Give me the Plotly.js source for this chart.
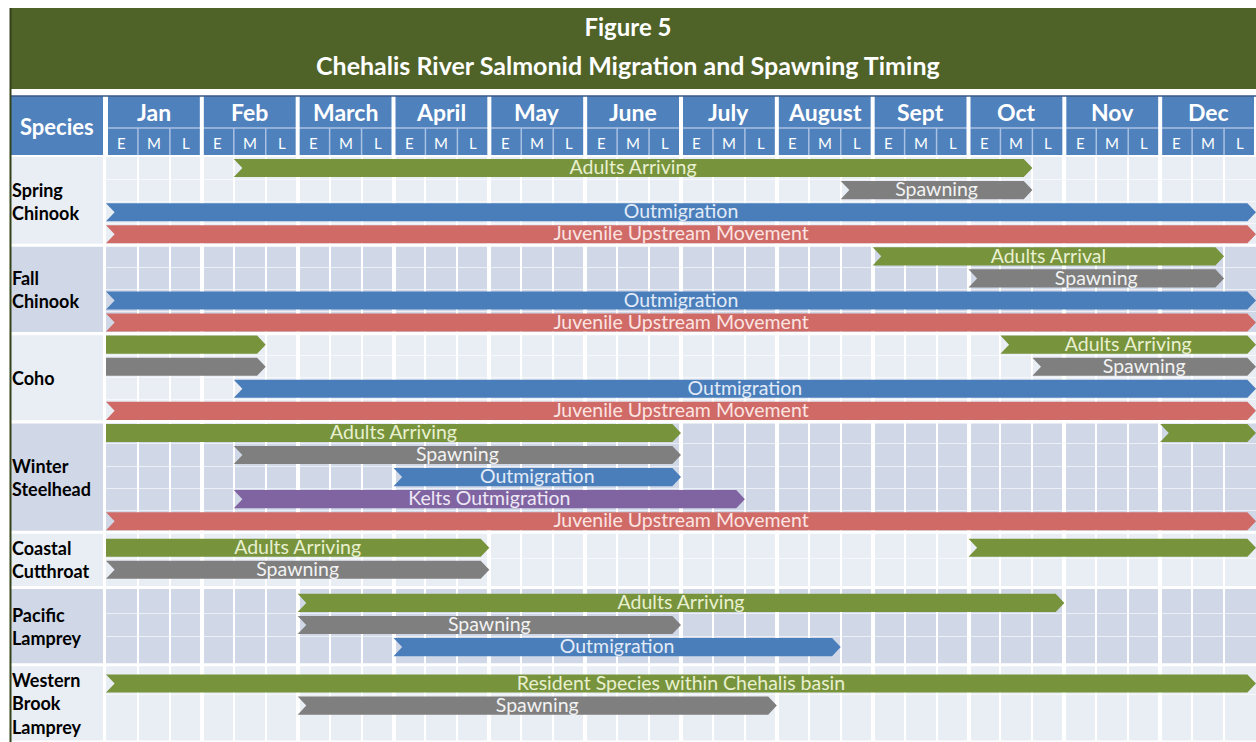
<!DOCTYPE html>
<html><head><meta charset="utf-8">
<script src="https://cdn.plot.ly/plotly-3.0.1.min.js"></script>
<style>html,body{margin:0;padding:0;background:#fff}#chart{width:1256px;height:742px}</style>
</head><body><div id="chart"></div>
<script>
// ---------------- DATA ----------------
const months = ['Jan','Feb','March','April','May','June','July','August','Sept','Oct','Nov','Dec'];
const periods = ['E','M','L'];
const species = ['Spring<br>Chinook','Fall<br>Chinook','Coho','Winter<br>Steelhead','Coastal<br>Cutthroat','Pacific<br>Lamprey','Western<br>Brook<br>Lamprey'];

// one entry per bar segment
const barSpecies  = [0,0,0,0, 1,1,1,1, 2,2,2,2,2,2, 3,3,3,3,3,3, 4,4,4, 5,5,5, 6,6];
const barLane     = [0,1,2,3, 0,1,2,3, 0,0,1,1,2,3, 0,0,1,2,3,4, 0,0,1, 0,1,2, 0,1];
const barActivity = ['adult','spawn','out','juv',
                     'adult','spawn','out','juv',
                     'adult','adult','spawn','spawn','out','juv',
                     'adult','adult','spawn','out','kelt','juv',
                     'adult','adult','spawn',
                     'adult','spawn','out',
                     'adult','spawn'];
const barLabel = ['Adults Arriving','Spawning','Outmigration','Juvenile Upstream Movement',
                  'Adults Arrival','Spawning','Outmigration','Juvenile Upstream Movement',
                  '','Adults Arriving','','Spawning','Outmigration','Juvenile Upstream Movement',
                  'Adults Arriving','','Spawning','Outmigration','Kelts Outmigration','Juvenile Upstream Movement',
                  'Adults Arriving','','Spawning',
                  'Adults Arriving','Spawning','Outmigration',
                  'Resident Species within Chehalis basin','Spawning'];
const barStart = ['Feb M','August L','Jan E','Jan E',
                  'Sept E','Oct E','Jan E','Jan E',
                  'Jan E','Oct M','Jan E','Oct L','Feb M','Jan E',
                  'Jan E','Dec E','Feb M','April E','Feb M','Jan E',
                  'Jan E','Oct E','Jan E',
                  'March E','March E','April E',
                  'Jan E','March E'];
const barEnd   = ['Oct M','Oct M','Dec L','Dec L',
                  'Dec M','Dec M','Dec L','Dec L',
                  'Feb M','Dec L','Feb M','Dec L','Dec L','Dec L',
                  'June L','Dec L','June L','June L','July M','Dec L',
                  'April L','Dec L','April L',
                  'Oct L','June L','August M',
                  'Dec L','July L'];
// segment continues from previous year (flat left end)
const barFromPrevYear = [false,false,false,false, false,false,false,false,
                         true,false,true,false,false,false,
                         true,false,false,false,false,false,
                         true,false,false, false,false,false, false,false];

// ---------------- LAYOUT / STYLE ----------------
const groupHeight = [4,4,4,5,2.5,3.5,3.5];
const groupPad    = [0,0,0,0,0.2,0.2,0.35];
const totalLanes = groupHeight.reduce((a,b)=>a+b,0);
const groupStart = []; {let c=0; for(const h of groupHeight){groupStart.push(c); c+=h;}}

const catColor = {adult:'#77933c', spawn:'#7f7f7f', out:'#4a7ebb', kelt:'#8064a2', juv:'#cf6a66'};
const catText  = {adult:'#e8f0d0', spawn:'#f2f2f2', out:'#e2ebf7', kelt:'#eee8f5', juv:'#fbe4e2'};
const cats = ['adult','spawn','out','kelt','juv'];
const FONT = 'Lato, "Open Sans", sans-serif';
const PX = {left:106, right:1256, top:157, bottom:742, frame:10, titleTop:8, titleBottom:89, headTop:96, headMid:128, headBottom:155};
const pxX = p => (p-PX.left)/(PX.right-PX.left);
const pxY = p => (PX.bottom-p)/(PX.bottom-PX.top);
const rowLight = '#e9edf4', rowDark = '#d0d8e8', hdr = '#4f81bd';

function tIndex(s){ const i=s.lastIndexOf(' '); return months.indexOf(s.slice(0,i))*3 + periods.indexOf(s.slice(i+1)); }

const D = 0.27, H = 0.41;
const traces = [];
cats.forEach(cat=>{
  const xs=[], ys=[], tx=[], ty=[], tt=[];
  barActivity.forEach((a,i)=>{
    if(a!==cat) return;
    const s = tIndex(barStart[i]), e = tIndex(barEnd[i])+1;
    const g = barSpecies[i];
    const yc = groupStart[g] + groupPad[g] + barLane[i] + 0.5;
    xs.push(s, e-D, e, e-D, s); ys.push(yc-H, yc-H, yc, yc+H, yc+H);
    if(!barFromPrevYear[i]){ xs.push(s+D); ys.push(yc); }
    xs.push(s, null); ys.push(yc-H, null);
    if(barLabel[i]){ tx.push((s+e)/2); ty.push(yc+0.06); tt.push(barLabel[i]); }
  });
  traces.push({type:'scatter', mode:'lines', x:xs, y:ys, fill:'toself', fillcolor:catColor[cat],
    line:{width:0, color:catColor[cat]}, hoverinfo:'skip', showlegend:false});
  traces.push({type:'scatter', mode:'text', x:tx, y:ty, text:tt, textposition:'middle center',
    textfont:{family:FONT, size:19.5, color:catText[cat]}, hoverinfo:'skip', showlegend:false, cliponaxis:false});
});

// shapes
const shapes = [];
shapes.push({type:'rect', xref:'paper', yref:'paper', x0:pxX(PX.frame), x1:1, y0:pxY(PX.titleBottom), y1:pxY(PX.titleTop), fillcolor:'#4f6228', line:{width:0}, layer:'below'});
groupHeight.forEach((h,g)=>{
  const c = g%2===0 ? rowLight : rowDark;
  const y0 = groupStart[g] + (g===0?0:0.07), y1 = groupStart[g]+h-0.07;
  shapes.push({type:'rect', xref:'paper', yref:'y', x0:pxX(PX.frame+1), x1:pxX(103), y0:y0, y1:y1, fillcolor:c, line:{width:0}, layer:'below'});
  shapes.push({type:'rect', xref:'x', yref:'y', x0:0, x1:36, y0:y0, y1:y1, fillcolor:c, line:{width:0}, layer:'below'});
});
shapes.push({type:'rect', xref:'paper', yref:'paper', x0:pxX(PX.frame), x1:pxX(103), y0:pxY(PX.headBottom), y1:pxY(PX.headTop), fillcolor:hdr, line:{width:0}});
shapes.push({type:'rect', xref:'x', yref:'paper', x0:0, x1:36, y0:pxY(PX.headBottom), y1:pxY(PX.headTop), fillcolor:hdr, line:{width:0}});
shapes.push({type:'line', xref:'x', yref:'paper', x0:0, x1:36, y0:pxY(PX.headMid), y1:pxY(PX.headMid), line:{color:'#a9c1e2', width:1.5}});
for(let t=0;t<36;t++){
  if(t%3!==0) shapes.push({type:'line', xref:'x', yref:'paper', x0:t, x1:t, y0:pxY(PX.headBottom), y1:pxY(PX.headMid), line:{color:'#a9c1e2', width:1.5}});
}
for(let m=0;m<=12;m++){
  shapes.push({type:'line', xref:'x', yref:'paper', x0:m*3, x1:m*3, y0:pxY(PX.headBottom), y1:pxY(PX.headTop), line:{color:'#ffffff', width:4}});
}
shapes.push({type:'line', xref:'paper', yref:'paper', x0:pxX(PX.frame), x1:1, y0:pxY(PX.headTop), y1:pxY(PX.headTop), line:{color:'#3a5a85', width:1.5}});
shapes.push({type:'line', xref:'paper', yref:'paper', x0:pxX(PX.frame+0.5), x1:pxX(PX.frame+0.5), y0:0, y1:pxY(PX.titleTop), line:{color:'#33421a', width:2}});

// annotations
const ann = [];
const A = (o)=>Object.assign({showarrow:false, xanchor:'center', yanchor:'middle'}, o);
ann.push(A({xref:'paper', yref:'paper', x:pxX(628), y:pxY(65), text:'Chehalis River Salmonid Migration and Spawning Timing',
  font:{family:FONT, size:25, color:'#ffffff', weight:700}}));
ann.push(A({xref:'paper', yref:'paper', x:pxX(57), y:pxY(127), text:'Species', font:{family:FONT, size:22, color:'#ffffff', weight:700}}));
months.forEach((m,i)=>{
  ann.push(A({xref:'x', yref:'paper', x:i*3+1.5, y:pxY(112), text:m, font:{family:FONT, size:23, color:'#ffffff', weight:700}}));
  periods.forEach((p,j)=>{
    ann.push(A({xref:'x', yref:'paper', x:i*3+j+0.5, y:pxY(143), text:p, font:{family:FONT, size:15, color:'#ffffff'}}));
  });
});
species.forEach((s,g)=>{
  ann.push(A({xref:'paper', yref:'y', x:pxX(10), xanchor:'left', y:groupStart[g]+groupHeight[g]/2, align:'left',
    text:s, font:{family:FONT, size:18, color:'#000000', weight:700}}));
});

const laneLines = [];
const lanesPerGroup = species.map((_,g)=>Math.max(...barLane.filter((l,i)=>barSpecies[i]===g))+1);
lanesPerGroup.forEach((n,g)=>{ for(let k=1;k<n;k++) laneLines.push(groupStart[g]+groupPad[g]+k); });

const layout = {
  width:1256, height:742,
  margin:{l:PX.left, r:1256-PX.right, t:PX.top, b:742-PX.bottom, pad:0},
  paper_bgcolor:'#ffffff', plot_bgcolor:'rgba(0,0,0,0)',
  title:{text:'Figure 5', font:{family:FONT, size:24, color:'#ffffff', weight:700}, xref:'paper', x:pxX(628), xanchor:'center', yref:'container', y:1-28/742, yanchor:'middle'},
  xaxis:{range:[0,36], tickmode:'array', tickvals:[0,3,6,9,12,15,18,21,24,27,30,33,36], showticklabels:false, ticks:'',
    showgrid:true, gridcolor:'#ffffff', gridwidth:4, zeroline:false, showline:false, fixedrange:true,
    minor:{dtick:1, tick0:0, showgrid:true, gridcolor:'#ffffff', gridwidth:2}},
  yaxis:{range:[totalLanes,0], tickmode:'array', tickvals:laneLines, showticklabels:false, ticks:'',
    showgrid:true, gridcolor:'rgba(255,255,255,0.6)', gridwidth:1, zeroline:false, showline:false, fixedrange:true},
  shapes:shapes, annotations:ann, showlegend:false
};
Plotly.newPlot('chart', traces, layout, {displayModeBar:false, staticPlot:true});
</script></body></html>
